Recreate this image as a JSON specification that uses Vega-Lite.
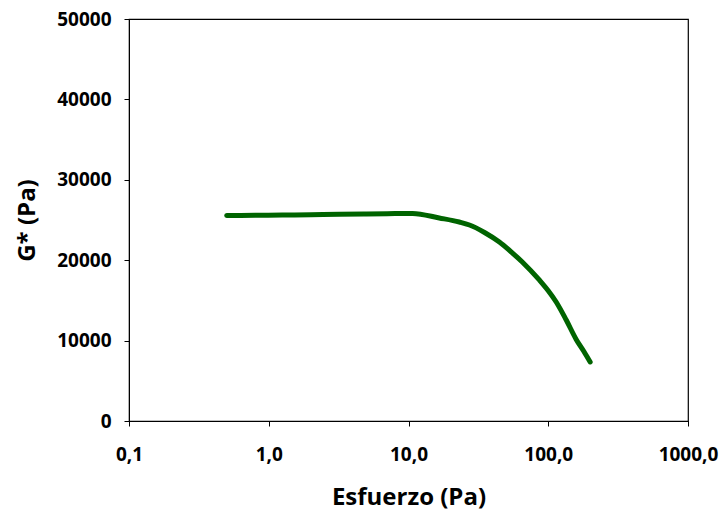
{
  "$schema": "https://vega.github.io/schema/vega-lite/v6.json",
  "width": 559,
  "height": 402,
  "autosize": {"type": "none"},
  "padding": {"left": 129, "top": 19, "right": 33, "bottom": 90},
  "background": "white",
  "config": {
    "view": {"stroke": "black", "strokeWidth": 1.2},
    "axis": {
      "grid": false,
      "domainColor": "black",
      "tickColor": "black",
      "tickSize": 5,
      "labelFont": "Open Sans",
      "labelFontWeight": "bold",
      "labelFontSize": 19,
      "labelColor": "black",
      "titleFont": "Open Sans",
      "titleFontWeight": "bold",
      "titleFontSize": 24,
      "titleColor": "black"
    }
  },
  "data": {
    "values": [
      {"esfuerzo": 0.5, "g": 25550},
      {"esfuerzo": 0.8, "g": 25580},
      {"esfuerzo": 1.25, "g": 25610},
      {"esfuerzo": 2.0, "g": 25650},
      {"esfuerzo": 3.2, "g": 25700},
      {"esfuerzo": 5.0, "g": 25750},
      {"esfuerzo": 8.0, "g": 25800},
      {"esfuerzo": 10.7, "g": 25820},
      {"esfuerzo": 16.6, "g": 25250},
      {"esfuerzo": 23.1, "g": 24750},
      {"esfuerzo": 27.3, "g": 24380},
      {"esfuerzo": 35.0, "g": 23450},
      {"esfuerzo": 44.7, "g": 22260},
      {"esfuerzo": 55.0, "g": 20950},
      {"esfuerzo": 65.2, "g": 19780},
      {"esfuerzo": 86.3, "g": 17540},
      {"esfuerzo": 100.0, "g": 16200},
      {"esfuerzo": 114.0, "g": 14800},
      {"esfuerzo": 134.5, "g": 12560},
      {"esfuerzo": 158.5, "g": 10150},
      {"esfuerzo": 180.0, "g": 8650},
      {"esfuerzo": 199.5, "g": 7340}
    ]
  },
  "mark": {"type": "line", "color": "#006400", "strokeWidth": 5, "strokeCap": "round", "strokeJoin": "round", "interpolate": "monotone"},
  "encoding": {
    "x": {
      "field": "esfuerzo",
      "type": "quantitative",
      "scale": {"type": "log", "domain": [0.1, 1000], "nice": false},
      "axis": {
        "title": "Esfuerzo (Pa)",
        "values": [0.1, 1, 10, 100, 1000],
        "labelExpr": "replace(format(datum.value, '.1f'), '.', ',')",
        "labelPadding": 19,
        "labelFlush": false,
        "titleY": 83,
        "titleBaseline": "alphabetic"
      }
    },
    "y": {
      "field": "g",
      "type": "quantitative",
      "scale": {"domain": [0, 50000], "nice": false},
      "axis": {
        "title": "G* (Pa)",
        "values": [0, 10000, 20000, 30000, 40000, 50000],
        "format": "d",
        "labelPadding": 13,
        "titleX": -95,
        "titleY": 201,
        "titleBaseline": "alphabetic",
        "titleAlign": "center"
      }
    }
  }
}
